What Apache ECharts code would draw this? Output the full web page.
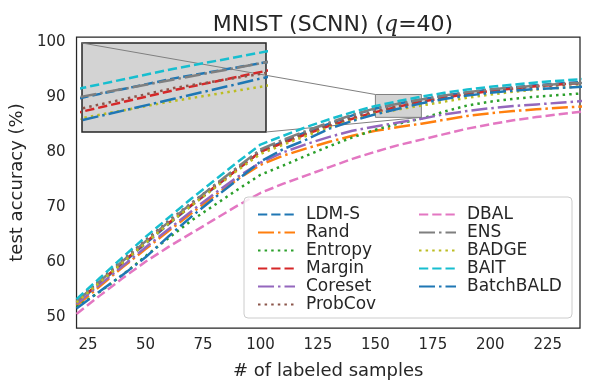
<!DOCTYPE html>
<html><head><meta charset="utf-8">
<script src="https://cdn.jsdelivr.net/npm/echarts@6/dist/echarts.min.js"></script>
<style>html,body{margin:0;padding:0;background:#fff}#c{width:590px;height:390px}</style>
</head><body><div id="c"></div>
<script>
const samples = [20,30,40,50,60,70,80,90,100,110,120,130,140,150,160,170,180,190,200,210,220,230,240];
const xTicks = [25,50,75,100,125,150,175,200,225];
const yTicks = [50,60,70,80,90,100];
const xRange = [20, 239];
const yRange = [47.96, 100.85];
const insetX = [150, 170];
const insetY = [86.25, 90.4];

const ldms      = [52.5,56.0,59.7,63.3,66.8,70.2,73.5,76.8,80.0,81.9,83.6,85.1,86.6,87.85,88.75,89.5,90.2,90.8,91.3,91.7,92.1,92.4,92.7];
const rand      = [52.0,55.5,59.0,62.3,65.6,68.8,72.0,75.0,77.6,79.3,80.6,81.8,82.9,83.8,84.5,85.1,85.8,86.5,87.0,87.4,87.7,88.0,88.2];
const entropy   = [51.8,54.5,57.6,61.0,64.3,67.5,70.3,73.1,75.8,77.5,79.3,81.0,82.6,84.0,85.1,86.0,87.3,88.4,89.1,89.6,90.0,90.3,90.6];
const margin    = [52.6,56.2,59.9,63.5,67.0,70.3,73.6,76.8,80.0,81.6,83.2,84.7,86.0,87.2,88.2,89.1,89.8,90.5,91.0,91.5,91.9,92.2,92.5];
const coreset   = [52.3,55.8,59.2,62.6,65.9,69.2,72.4,75.4,78.0,79.9,81.4,82.7,83.8,84.6,85.3,86.0,86.8,87.4,87.9,88.3,88.6,88.9,89.2];
const probcov   = [53.0,56.6,60.3,63.9,67.4,70.7,73.9,77.1,80.2,81.8,83.4,84.9,86.2,87.35,88.3,89.0,89.7,90.4,90.9,91.4,91.8,92.1,92.4];
const dbal      = [50.5,53.8,57.0,60.0,62.7,65.2,67.7,70.2,72.5,74.2,75.7,77.2,78.7,80.0,81.2,82.2,83.2,84.2,85.0,85.7,86.3,86.8,87.3];
const ens       = [52.8,56.4,60.1,63.7,67.2,70.6,73.9,77.2,80.4,82.2,83.8,85.3,86.7,87.9,88.7,89.5,90.2,90.8,91.3,91.7,92.0,92.3,92.5];
const badge     = [52.6,56.2,59.8,63.4,66.9,70.2,73.4,76.6,79.6,81.3,82.9,84.4,85.7,86.9,87.7,88.4,89.1,89.8,90.4,90.9,91.3,91.6,91.9];
const bait      = [53.2,57.0,60.8,64.5,68.0,71.5,74.8,78.1,81.3,82.9,84.5,85.9,87.2,88.3,89.2,90.0,90.7,91.3,91.8,92.2,92.6,92.9,93.2];
const batchbald = [51.5,54.6,57.6,60.8,64.6,68.2,71.6,74.9,78.2,80.5,82.2,84.2,85.6,86.8,87.8,88.8,89.6,90.2,90.7,91.1,91.4,91.6,91.8];

const legendCol1 = ['LDM-S','Rand','Entropy','Margin','Coreset','ProbCov'];
const legendCol2 = ['DBAL','ENS','BADGE','BAIT','BatchBALD'];

const DASH = [9.25, 4], DASHDOT = [16, 4, 2.5, 4], DOT = [2.5, 4.1];
const defs = [
  ['LDM-S', ldms, '#1f77b4', DASH],
  ['Rand', rand, '#ff7f0e', DASHDOT],
  ['Entropy', entropy, '#2ca02c', DOT],
  ['Margin', margin, '#d62728', DASH],
  ['Coreset', coreset, '#9467bd', DASHDOT],
  ['ProbCov', probcov, '#8c564b', DOT],
  ['DBAL', dbal, '#e377c2', DASH],
  ['ENS', ens, '#7f7f7f', DASHDOT],
  ['BADGE', badge, '#bcbd22', DOT],
  ['BAIT', bait, '#17becf', DASH],
  ['BatchBALD', batchbald, '#1f77b4', DASHDOT]
];

const series = [];
[0,1].forEach(gi => {
  defs.forEach(([name, vals, color, dash]) => {
    series.push({
      name, type: 'line', xAxisIndex: gi, yAxisIndex: gi,
      data: samples.map((x, i) => [x, vals[i]]),
      symbol: 'none', showSymbol: false, smooth: false, silent: true,
      color, lineStyle: { color, width: 2.5, type: dash, cap: 'butt' },
      itemStyle: { color }, emphasis: { disabled: true }
    });
  });
});

const TXT = '#262626';
const FONT = 'DejaVu Sans';
const chart = echarts.init(document.getElementById('c'), null, { renderer: 'canvas' });
const legendBase = {
  orient: 'vertical', top: 201, itemWidth: 37, itemHeight: 14, itemGap: 1,
  selectedMode: false, z: 5,
  itemStyle: { opacity: 0, borderWidth: 0 },
  textStyle: { fontFamily: FONT, fontSize: 17, color: TXT, lineHeight: 17, padding: [0,0,0,6] }
};
chart.setOption({
  animation: false,
  backgroundColor: '#fff',
  title: {
    text: 'MNIST (SCNN) ({q|q}=40)', left: 328, top: 9, textAlign: 'center',
    textStyle: { fontFamily: FONT, fontSize: 22, fontWeight: 'normal', color: TXT,
      rich: { q: { fontFamily: 'DejaVu Serif', fontStyle: 'italic', fontSize: 22, color: TXT } } }
  },
  legend: [
    Object.assign({}, legendBase, { left: 252, data: legendCol1 }),
    Object.assign({}, legendBase, { left: 413, data: legendCol2 })
  ],
  grid: [
    { left: 74, top: 37, width: 506, height: 291, show: true, borderColor: TXT, borderWidth: 1.25, backgroundColor: 'transparent' },
    { left: 82, top: 43, width: 184, height: 89, show: true, borderColor: TXT, borderWidth: 1.5, backgroundColor: '#d3d3d3', z: 1 }
  ],
  xAxis: [
    { type: 'value', gridIndex: 0, min: xRange[0], max: xRange[1],
      name: '# of labeled samples', nameLocation: 'middle', nameGap: 34,
      nameTextStyle: { fontFamily: FONT, fontSize: 18, color: TXT },
      axisLine: { show: false }, axisTick: { show: false }, splitLine: { show: false },
      axisLabel: { customValues: xTicks, fontFamily: FONT, fontSize: 15, color: TXT, margin: 10 } },
    { type: 'value', gridIndex: 1, min: insetX[0], max: insetX[1], show: false, splitLine: { show: false } }
  ],
  yAxis: [
    { type: 'value', gridIndex: 0, min: yRange[0], max: yRange[1],
      name: 'test accuracy (%)', nameLocation: 'middle', nameGap: 45,
      nameTextStyle: { fontFamily: FONT, fontSize: 18, color: TXT },
      axisLine: { show: false }, axisTick: { show: false }, splitLine: { show: false },
      axisLabel: { customValues: yTicks, fontFamily: FONT, fontSize: 15, color: TXT, margin: 11 } },
    { type: 'value', gridIndex: 1, min: insetY[0], max: insetY[1], show: false, splitLine: { show: false } }
  ],
  series
});

const tl = chart.convertToPixel({ gridIndex: 0 }, [insetX[0], insetY[1]]);
const br = chart.convertToPixel({ gridIndex: 0 }, [insetX[1], insetY[0]]);
const itl = chart.convertToPixel({ gridIndex: 1 }, [insetX[0], insetY[1]]);
const ibr = chart.convertToPixel({ gridIndex: 1 }, [insetX[1], insetY[0]]);
chart.setOption({
  graphic: [
    { type: 'rect', z: 1, silent: true,
      shape: { x: tl[0], y: tl[1], width: br[0] - tl[0], height: br[1] - tl[1] },
      style: { fill: '#d3d3d3', stroke: '#808080', lineWidth: 1 } },
    { type: 'line', z: 1, silent: true,
      shape: { x1: itl[0], y1: itl[1], x2: tl[0], y2: tl[1] },
      style: { stroke: '#808080', lineWidth: 1 } },
    { type: 'line', z: 1, silent: true,
      shape: { x1: ibr[0], y1: ibr[1], x2: br[0], y2: br[1] },
      style: { stroke: '#808080', lineWidth: 1 } },
    { type: 'rect', z: 4, silent: true,
      shape: { x: 244, y: 197, width: 328, height: 121, r: 4 },
      style: { fill: 'rgba(255,255,255,0.85)', stroke: '#cccccc', lineWidth: 1 } }
  ]
});
</script></body></html>
